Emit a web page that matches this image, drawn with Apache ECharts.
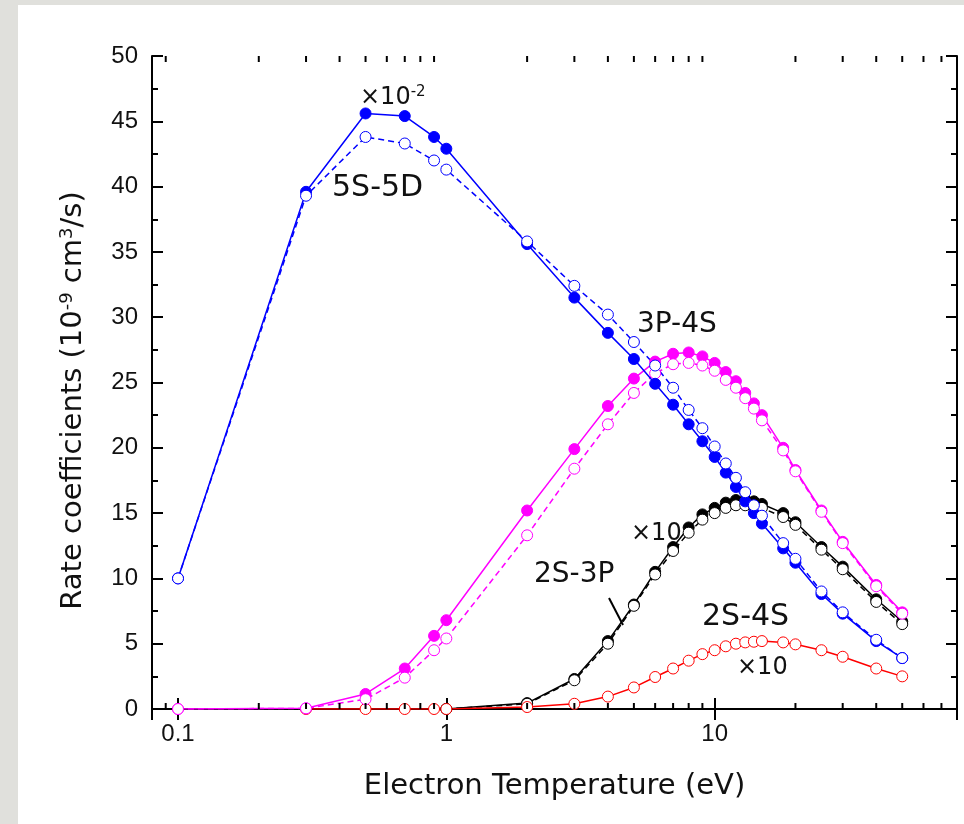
<!DOCTYPE html>
<html>
<head>
<meta charset="utf-8">
<title>Rate coefficients vs electron temperature</title>
<script src="https://cdn.jsdelivr.net/npm/echarts@6/dist/echarts.min.js"></script>
<style>
  html, body { margin: 0; padding: 0; background: #e0e0dc; }
  #chart { position: absolute; left: 18px; top: 5px; width: 946px; height: 819px; background: #fff; }
</style>
</head>
<body>
<div id="chart"></div>
<script>
/* ---------- data ---------- */
const temps = [0.1, 0.3, 0.5, 0.7, 0.9, 1, 2, 3, 4, 5, 6, 7, 8, 9, 10, 11, 12, 13, 14, 15, 18, 20, 25, 30, 40, 50];

// 5S-5D (x10^-2)
const s5dSolid = [10.0, 39.6, 45.6, 45.4, 43.8, 42.9, 35.6, 31.5, 28.8, 26.8, 24.9, 23.3, 21.8, 20.5, 19.3, 18.1, 17.0, 15.9, 15.0, 14.2, 12.3, 11.2, 8.8, 7.3, 5.2, 3.9];
const s5dDash  = [10.0, 39.3, 43.8, 43.3, 42.0, 41.3, 35.8, 32.4, 30.2, 28.1, 26.3, 24.6, 22.9, 21.5, 20.1, 18.8, 17.7, 16.6, 15.6, 14.8, 12.7, 11.5, 9.0, 7.4, 5.3, 3.9];
// 3P-4S
const p4sSolid = [0, 0.05, 1.15, 3.1, 5.6, 6.8, 15.2, 19.9, 23.2, 25.3, 26.6, 27.2, 27.3, 27.0, 26.5, 25.8, 25.1, 24.2, 23.4, 22.5, 20.0, 18.3, 15.2, 12.8, 9.5, 7.4];
const p4sDash  = [0, 0.05, 0.75, 2.4, 4.5, 5.4, 13.3, 18.4, 21.8, 24.2, 25.7, 26.4, 26.5, 26.3, 25.9, 25.2, 24.6, 23.8, 23.0, 22.1, 19.8, 18.2, 15.1, 12.7, 9.4, 7.3];
// 2S-3P (x10)
const s3pSolid = [null, null, null, null, null, 0, 0.45, 2.3, 5.2, 8.0, 10.5, 12.4, 13.9, 14.9, 15.4, 15.8, 16.0, 16.0, 15.9, 15.7, 15.0, 14.3, 12.4, 10.9, 8.4, 6.7];
const s3pDash  = [null, null, null, null, null, 0, 0.4, 2.2, 5.0, 7.9, 10.3, 12.1, 13.5, 14.5, 15.0, 15.4, 15.6, 15.6, 15.5, 15.4, 14.7, 14.1, 12.2, 10.7, 8.2, 6.5];
// 2S-4S (x10)
const s4s      = [null, 0, 0, 0, 0, 0, 0.15, 0.4, 0.95, 1.65, 2.45, 3.1, 3.7, 4.2, 4.5, 4.8, 5.0, 5.1, 5.15, 5.2, 5.1, 4.95, 4.5, 4.0, 3.1, 2.5];

// minor ticks of the log axis
const logMinorTicks = [0.09, 0.2, 0.3, 0.4, 0.5, 0.6, 0.7, 0.8, 0.9, 2, 3, 4, 5, 6, 7, 8, 9, 20, 30, 40, 50, 60, 70];

/* ---------- helpers ---------- */
const FONT = '"Liberation Sans", Arial, Helvetica, sans-serif';
const WIDE = '"DejaVu Sans", "Liberation Sans", sans-serif';
const OX = 18, OY = 5; // chart div offset inside the page

function pairs(vals) {
  return temps.map((t, i) => [t, vals[i]]).filter(p => p[1] !== null);
}

function curve(vals, color, dashed, open) {
  return {
    type: 'line',
    data: pairs(vals),
    symbol: 'circle',
    symbolSize: 11,
    showAllSymbol: true,
    lineStyle: { color: color, width: 1.5, type: dashed ? [6, 4] : 'solid' },
    itemStyle: open
      ? { color: '#fff', borderColor: color, borderWidth: 1 }
      : { color: color, borderColor: color, borderWidth: 1 },
    emphasis: { disabled: true },
    animation: false
  };
}

function minorTickItem(params, api) {
  const cs = params.coordSys;
  const x = api.coord([api.value(0), 1])[0];
  const st = { stroke: '#000', lineWidth: 2 };
  return {
    type: 'group',
    children: [
      { type: 'line', shape: { x1: x, y1: cs.y + cs.height, x2: x, y2: cs.y + cs.height - 6 }, style: st },
      { type: 'line', shape: { x1: x, y1: cs.y, x2: x, y2: cs.y + 6 }, style: st }
    ]
  };
}

function label(text, x, y, size) {
  return {
    type: 'text',
    left: x - OX, top: y - OY,
    style: {
      text: text, font: size + 'px ' + WIDE, fill: '#111',
      rich: { sup: { fontSize: Math.round(size * 0.62), verticalAlign: 'top', padding: [0, 0, 10, 0], fontFamily: WIDE } }
    },
    z: 100
  };
}

/* ---------- chart ---------- */
const chart = echarts.init(document.getElementById('chart'), null, { renderer: 'canvas' });

const axisLine = { show: true, lineStyle: { color: '#000', width: 2 } };
const majorTick = { show: true, inside: true, length: 11, lineStyle: { color: '#000', width: 2 } };

chart.setOption({
  backgroundColor: '#fff',
  animation: false,
  textStyle: { fontFamily: FONT },
  grid: { left: 134, right: 7, top: 51, bottom: 115 },
  xAxis: [
    {
      type: 'log', min: 0.08, max: 80, logBase: 10,
      axisLine: axisLine, axisTick: majorTick,
      splitLine: { show: false },
      axisLabel: { color: '#111', fontSize: 24, margin: 13, showMinLabel: false, showMaxLabel: false, fontFamily: FONT },
      name: 'Electron Temperature (eV)', nameLocation: 'middle', nameGap: 63,
      nameTextStyle: { fontSize: 29, color: '#111', fontFamily: WIDE }
    },
    {
      type: 'log', min: 0.08, max: 80, logBase: 10, position: 'top',
      axisLine: axisLine, axisTick: majorTick,
      splitLine: { show: false }, axisLabel: { show: false }
    }
  ],
  yAxis: [
    {
      type: 'value', min: 0, max: 50, interval: 5,
      axisLine: axisLine, axisTick: majorTick,
      minorTick: { show: true, splitNumber: 2, length: 6, lineStyle: { color: '#000', width: 2 } },
      splitLine: { show: false },
      axisLabel: { color: '#111', fontSize: 24, margin: 14, fontFamily: FONT },
      name: 'Rate coefficients (10{sup|-9} cm{sup|3}/s)', nameLocation: 'middle', nameGap: 64,
      nameTextStyle: {
        fontSize: 29, color: '#111', fontFamily: WIDE, padding: [0, 36, 0, 0],
        rich: { sup: { fontSize: 18, verticalAlign: 'top', padding: [0, 0, 12, 0], fontFamily: WIDE } }
      }
    },
    {
      type: 'value', min: 0, max: 50, interval: 5, position: 'right',
      axisLine: axisLine, axisTick: majorTick,
      minorTick: { show: true, splitNumber: 2, length: 6, lineStyle: { color: '#000', width: 2 } },
      splitLine: { show: false }, axisLabel: { show: false }
    }
  ],
  series: [
    {
      type: 'custom', data: logMinorTicks.map(v => [v, 0]),
      renderItem: minorTickItem, clip: false, silent: true, z: 10
    },
    curve(s3pSolid, '#000000', false, false),
    curve(s3pDash, '#000000', true, true),
    curve(s4s, '#ff0000', false, true),
    curve(p4sSolid, '#ff00ff', false, false),
    curve(p4sDash, '#ff00ff', true, true),
    curve(s5dSolid, '#0000ff', false, false),
    curve(s5dDash, '#0000ff', true, true)
  ],
  graphic: [
    label('\u00d710{sup|-2}', 360, 85, 24),
    label('5S-5D', 332, 173, 30),
    label('3P-4S', 637, 311, 28),
    label('\u00d710', 631, 522, 24),
    label('2S-3P', 534, 561, 28),
    label('2S-4S', 702, 602, 30),
    label('\u00d710', 737, 656, 24),
    {
      type: 'line', z: 100,
      shape: { x1: 609 - OX, y1: 598 - OY, x2: 623 - OX, y2: 625 - OY },
      style: { stroke: '#000', lineWidth: 2 }
    }
  ]
});
</script>
</body>
</html>
